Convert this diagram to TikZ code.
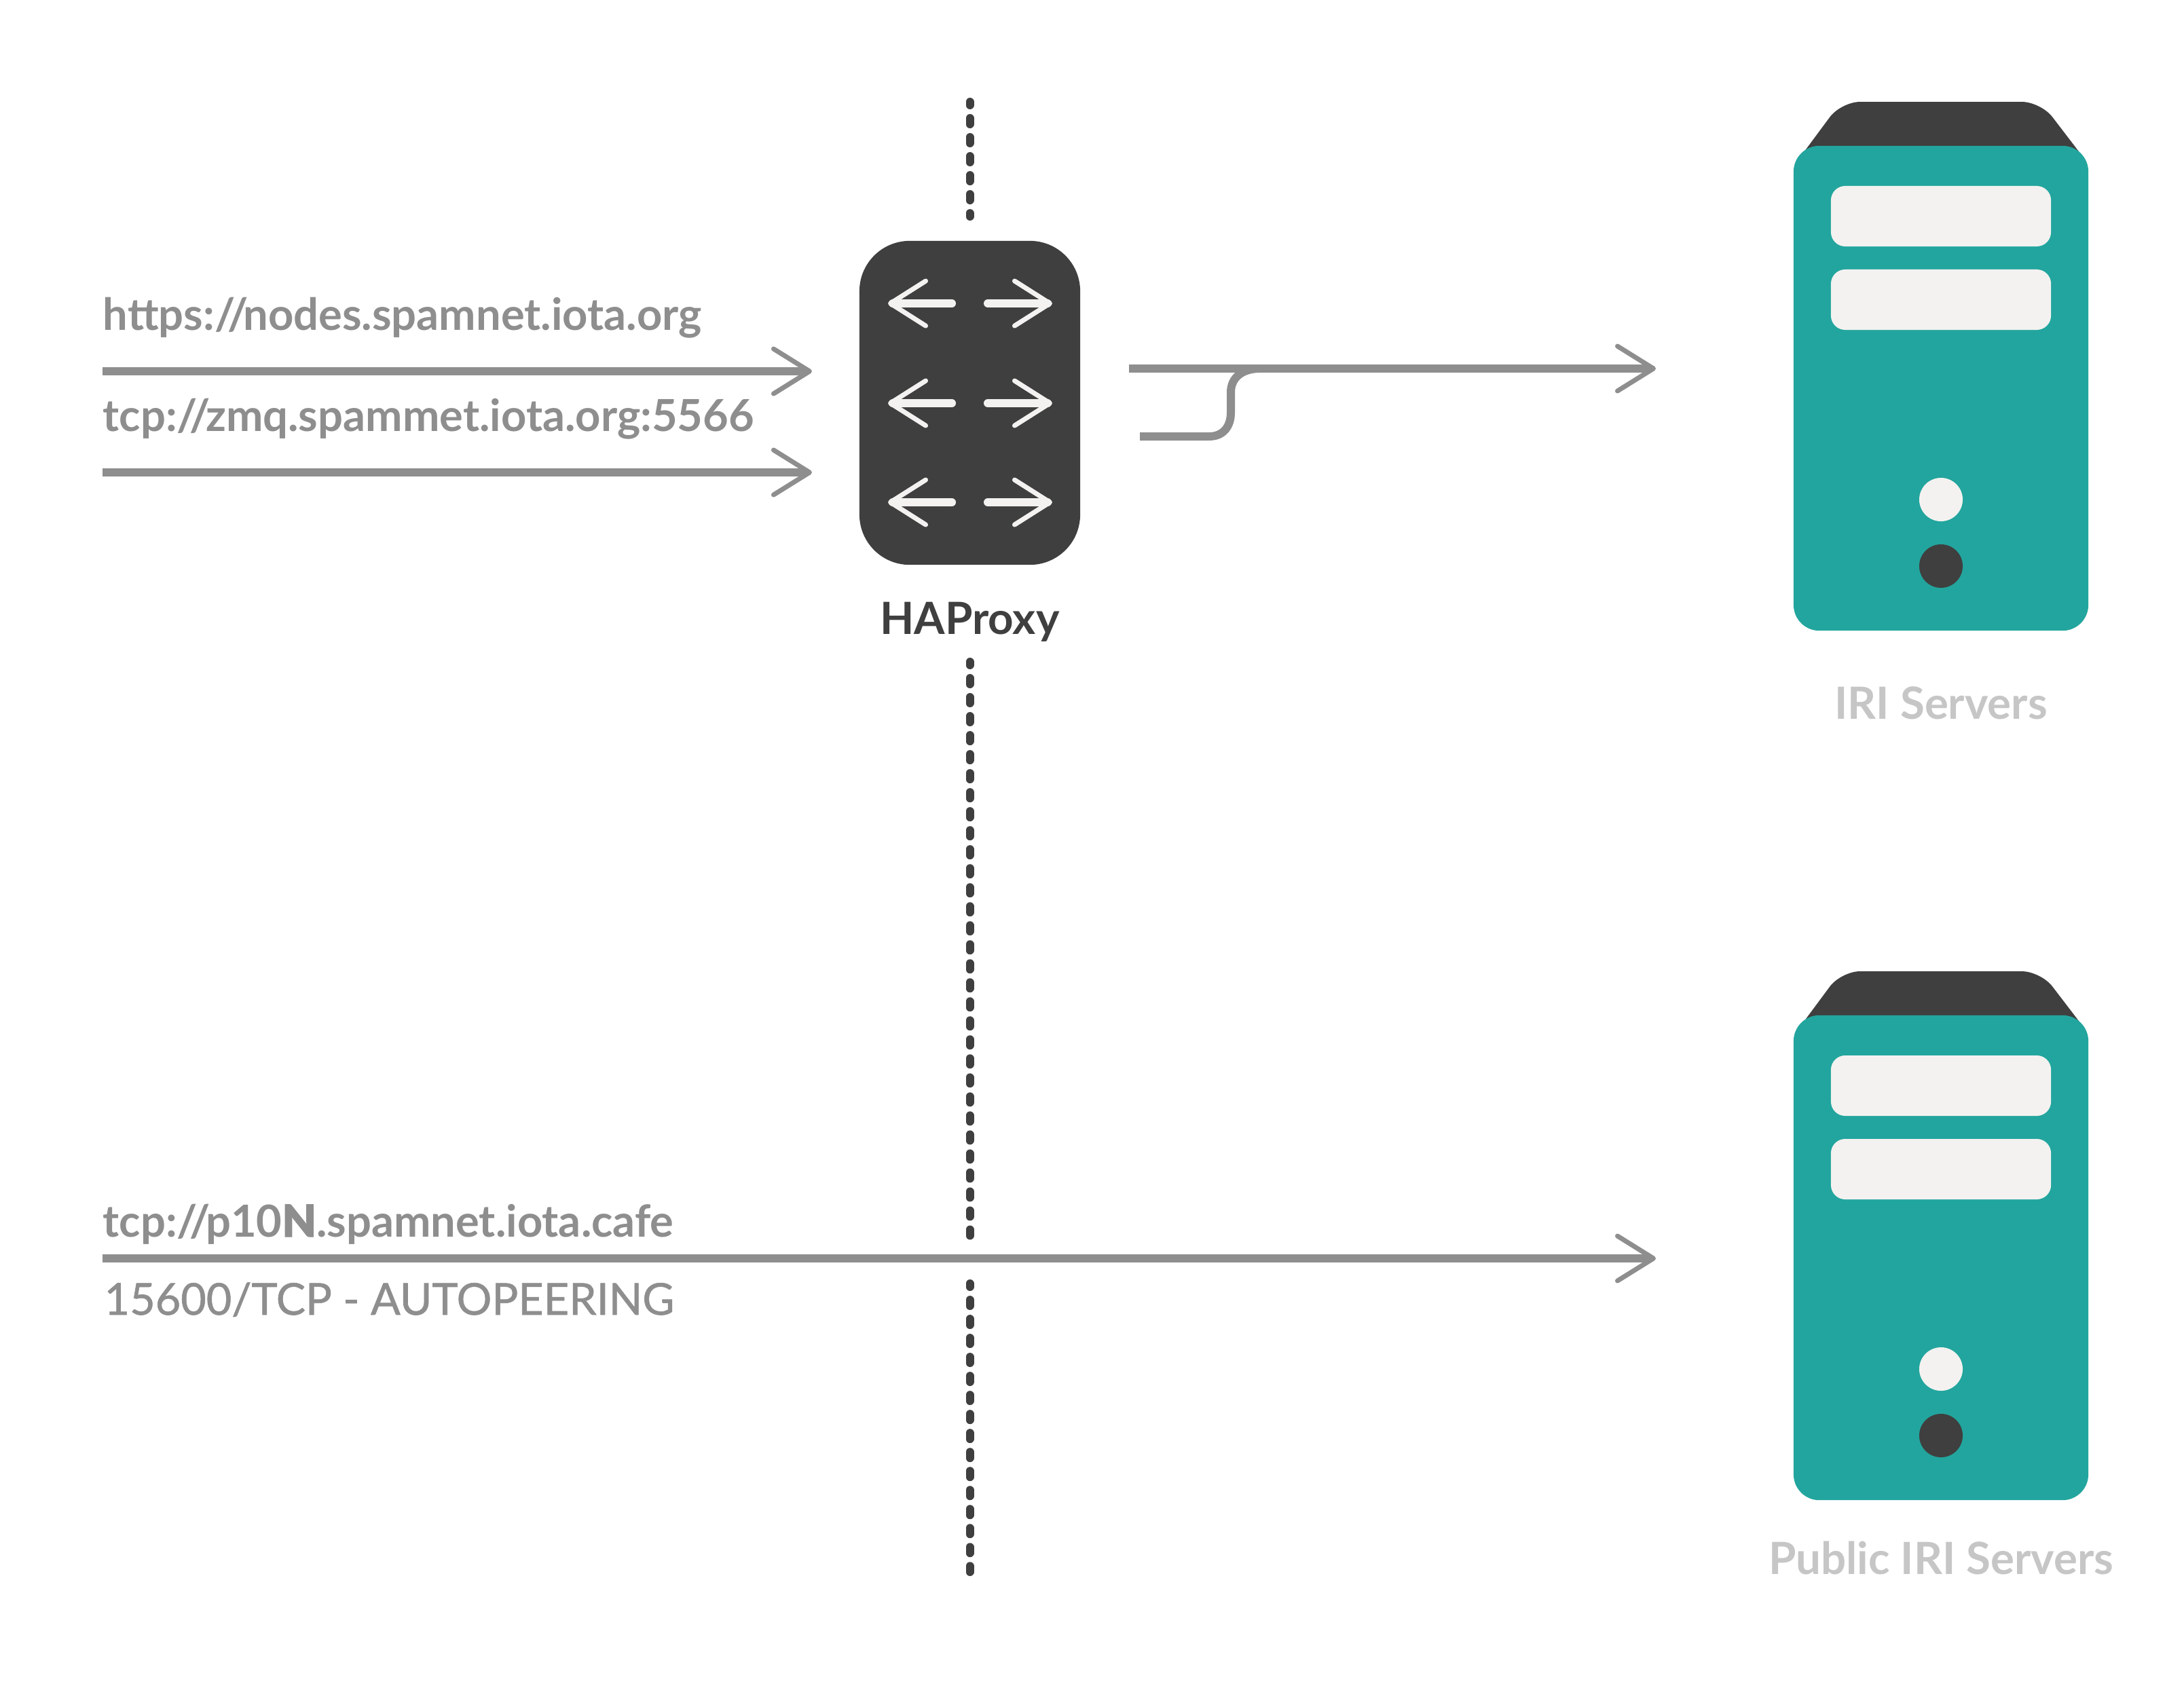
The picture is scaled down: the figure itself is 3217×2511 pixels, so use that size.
\documentclass[tikz,border=0pt]{standalone}
\usepackage{fontspec}
\setmainfont{Lato}
\newfontfamily\heavyfont[FakeBold=1.6]{Lato Bold}
\newfontfamily\midfont[FakeBold=1]{Lato}
\usetikzlibrary{arrows.meta}

\definecolor{linegray}{HTML}{8E8E8E}
\definecolor{darkbox}{HTML}{3F3F3F}
\definecolor{teal}{HTML}{22A59E}
\definecolor{paper}{HTML}{F3F2F0}
\definecolor{faint}{HTML}{C6C6C6}

\newcommand{\dslash}{/\kern-3.2pt/\kern-2pt}

\tikzset{
    link/.style={draw=linegray, line width=.12cm, -{Straight Barb[round, length=.53cm, width=.66cm, line width=.07cm]}},
    turn/.style={draw=paper, line width=.12cm, line cap=round, -{Straight Barb[round, length=.52cm, width=.66cm, line width=.07cm]}},
    cut/.style={draw=darkbox, line width=.12cm, line cap=round, dash pattern=on .09cm off .19cm, dash phase=.04cm},
    url/.style={anchor=base west, inner sep=0pt, text=linegray, font=\fontsize{18.5}{20}\selectfont\bfseries},
    title/.style={anchor=base, inner sep=0pt, font=\fontsize{18.6}{20}\selectfont\bfseries},
    slot/.style={fill=paper, rounded corners=.21cm, minimum width=3.24cm, minimum height=.89cm, inner sep=0pt},
    lamp/.style={circle, minimum size=.64cm, inner sep=0pt}
}

\begin{document}
\begin{tikzpicture}
    \begin{scope}[x=.01cm, y=-.01cm]
        \fill[white] (0,0) rectangle (3217,2511);

        %Trennlinie
        \draw[cut] (1428.5,150) -- (1428.5,319);
        \draw[cut] (1428.5,975) -- (1428.5,1824);
        \draw[cut] (1428.5,1891) -- (1428.5,2316);

        %HAProxy
        \node (haproxy) at (1428.5,593.5) [fill=darkbox, rounded corners=.74cm, minimum width=3.25cm, minimum height=4.77cm, inner sep=0pt] {};
        \foreach \y in {447, 594, 740} {
            \draw[turn] (1402,\y) -- (1308,\y);
            \draw[turn] (1455,\y) -- (1550,\y);
        }
        \node (haproxylabel) at (1428.5,934) [title, text=darkbox] {HAProxy};

        %Server
        \foreach \o/\b/\t in {0/1059/IRI Servers, 1281/2319/Public IRI Servers} {
            \begin{scope}[shift={(0,\o)}]
                \fill[darkbox] (2649,235) [rounded corners=.28cm] -- (2712,150) -- (3006,150) [sharp corners] -- (3071,235) -- cycle;
                \node (server\o) at (2859,572) [fill=teal, rounded corners=.38cm, minimum width=4.34cm, minimum height=7.14cm, inner sep=0pt] {};
                \node (slota\o) at (2859,318.5) [slot] {};
                \node (slotb\o) at (2859,441.5) [slot] {};
                \node (lampa\o) at (2859,736) [lamp, fill=paper] {};
                \node (lampb\o) at (2859,834) [lamp, fill=darkbox] {};
            \end{scope}
            \node (serverlabel\o) at (2859,\b) [title, text=faint] {\t};
        }

        %Eingang
        \coordinate (httpsin) at (151,547);
        \coordinate (httpsout) at (1196,547);
        \coordinate (zmqin) at (151,696);
        \coordinate (zmqout) at (1196,696);
        \coordinate (peerin) at (151,1854);
        \coordinate (peerout) at (2439,1854);
        \draw[link] (httpsin) -- (httpsout);
        \draw[link] (zmqin) -- (zmqout);
        \draw[link] (peerin) -- (peerout);
        \node (httpslabel) at (151,486) [url] {https:\dslash nodes.spamnet.iota.org};
        \node (zmqlabel) at (151,635) [url] {tcp:\dslash zmq.spammet.iota.org:5566};
        \node (peerlabel) at (151,1822) [url] {tcp:\dslash p10{\heavyfont N}.spamnet.iota.cafe};
        \node (portlabel) at (153,1937) [url, font=\fontsize{18.4}{20}\midfont] {15600/TCP - AUTOPEERING};

        %Ausgang
        \coordinate (outa) at (1663,543);
        \coordinate (outb) at (1679,643);
        \coordinate (outend) at (2439,543);
        \draw[link] (outa) -- (outend);
        \draw[draw=linegray, line width=.12cm] (outb) -- (1781,643) .. controls (1802,643) and (1813,628) .. (1813,608) -- (1813,578) .. controls (1813,556) and (1830,543) .. (1856,543);
    \end{scope}
\end{tikzpicture}
\end{document}
